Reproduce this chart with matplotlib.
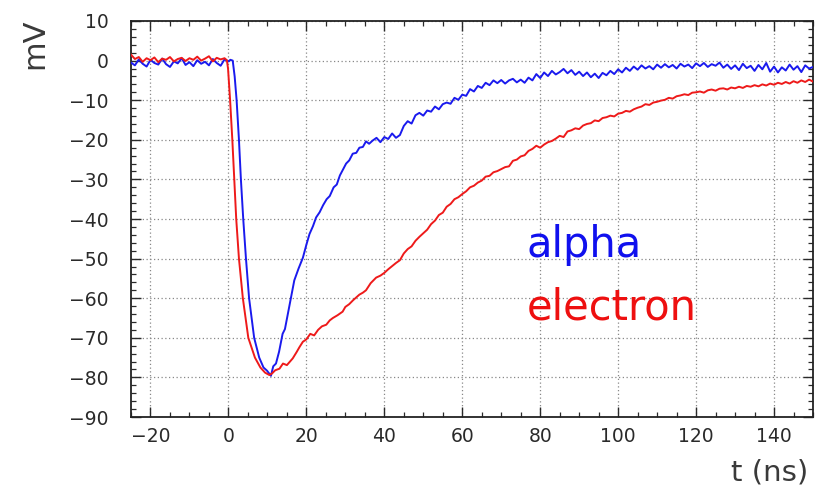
import matplotlib
matplotlib.use("Agg")
import matplotlib.pyplot as plt
from matplotlib.ticker import MultipleLocator

# ---- data ----
alpha_t = [-25, -24, -23, -22, -21, -20, -19, -18, -17, -16, -15, -14, -13, -12, -11, -10,
           -9, -8, -7, -6, -5, -4, -3, -2, -1, 0, 0.5, 1.1, 1.6, 2.1, 2.7, 3.2, 3.8, 4.5,
           5.3, 6.6, 7.9, 9.0, 9.9, 10.9, 11.5, 12.2, 13.0, 13.9, 14.5, 15.2, 16.0, 16.9,
           18.0, 19.1, 20.0, 20.8, 21.7, 22.5, 23.4, 24.3, 25.2, 26.0, 27.0, 27.8, 28.6,
           29.4, 30.2, 31.0, 31.9, 32.8, 33.6, 34.5, 35.3, 36.1, 37, 38, 39, 40, 41, 42,
           43, 44, 45, 46, 47, 48, 49, 50, 51, 52, 53, 54, 55, 56, 57, 58, 59, 60, 61, 62,
           63, 64, 65, 66, 67, 68, 69, 70, 71, 72, 73, 74, 75, 76, 77, 78, 79, 80, 81, 82,
           83, 84, 85, 86, 87, 88, 89, 90, 91, 92, 93, 94, 95, 96, 97, 98, 99, 100, 101,
           102, 103, 104, 105, 106, 107, 108, 109, 110, 111, 112, 113, 114, 115, 116, 117,
           118, 119, 120, 121, 122, 123, 124, 125, 126, 127, 128, 129, 130, 131, 132, 133,
           134, 135, 136, 137, 138, 139, 140, 141, 142, 143, 144, 145, 146, 147, 148, 149, 150]
alpha_mv = [-0.5, -1.2, 0.3, -0.8, -1.5, 0.2, -0.6, -1.0, 0.5, -0.9, -1.6, -0.2, -0.7, 0.6,
            -1.1, -0.4, -1.4, 0.1, -0.8, -0.3, -1.2, 0.4, -0.6, -1.3, 0.3, -0.2, 0.2, 0.0,
            -4, -10, -20, -30, -40, -50, -60, -70, -75, -77.5, -78.3, -79.6, -77.2, -76.5,
            -73.5, -69.0, -67.8, -64.2, -60.0, -55.5, -52.5, -49.8, -46.5, -43.8, -41.8,
            -39.6, -38.3, -36.5, -35.0, -34.2, -32.0, -31.3, -29.0, -27.5, -26.0, -25.2,
            -23.5, -23.3, -22.0, -21.8, -20.4, -21.0, -20.2, -19.5, -20.6, -19.3, -19.8,
            -18.4, -19.5, -18.8, -16.5, -15.3, -15.9, -13.8, -13.2, -13.9, -12.6, -12.9,
            -11.6, -12.3, -11.0, -10.6, -10.9, -9.4, -9.9, -8.6, -8.9, -7.2, -7.8, -6.4,
            -6.9, -5.6, -6.2, -5.0, -5.7, -4.9, -5.8, -5.0, -4.6, -5.5, -4.8, -5.6, -4.3,
            -5.0, -3.4, -4.4, -3.0, -3.9, -2.6, -3.5, -2.9, -2.1, -3.2, -2.4, -3.6, -2.8,
            -3.9, -3.0, -4.2, -3.3, -4.4, -3.1, -3.7, -2.6, -3.4, -2.2, -3.0, -1.8, -2.6,
            -1.5, -2.3, -1.2, -2.0, -1.4, -2.2, -1.0, -1.8, -0.9, -1.7, -1.1, -2.0, -0.8,
            -1.5, -1.0, -1.9, -0.7, -1.4, -0.6, -1.6, -0.9, -1.3, -0.5, -1.8, -1.0, -2.1,
            -1.2, -2.4, -0.8, -1.9, -1.3, -2.6, -1.1, -2.2, -0.6, -2.8, -1.5, -3.0, -1.7,
            -2.5, -1.0, -2.3, -1.4, -2.9, -1.2, -2.0, -1.6]

electron_t = [-25, -24, -23, -22, -21, -20, -19, -18, -17, -16, -15, -14, -13, -12, -11, -10,
              -9, -8, -7, -6, -5, -4, -3, -2, -1, -0.4, -0.1, 0.43, 1.0, 1.5, 2.0, 2.7, 3.7,
              5.1, 6.8, 8.2, 9.4, 10.5, 11.2, 12.0, 13.1, 14, 15, 16.5, 17.5, 18.2, 19.1, 20,
              21, 22, 23, 24, 25.1, 26, 26.8, 28, 29.3, 30, 31, 32, 33.6, 34.5, 35.3, 36.5,
              37.9, 39, 40, 41, 42, 43, 44, 45, 46, 47, 48, 49, 50, 51, 52, 53, 54, 55, 56,
              57, 58, 59, 60, 61, 62, 63, 64, 65, 66, 67, 68, 69, 70, 71, 72, 73, 74, 75, 76,
              77, 78, 79, 80, 81, 82, 83, 84, 85, 86, 87, 88, 89, 90, 91, 92, 93, 94, 95, 96,
              97, 98, 99, 100, 101, 102, 103, 104, 105, 106, 107, 108, 109, 110, 111, 112,
              113, 114, 115, 116, 117, 118, 119, 120, 121, 122, 123, 124, 125, 126, 127, 128,
              129, 130, 131, 132, 133, 134, 135, 136, 137, 138, 139, 140, 141, 142, 143, 144,
              145, 146, 147, 148, 149, 150]
electron_mv = [1.5, 0.4, 0.9, -0.3, 0.6, 0.1, 0.8, -0.4, 0.5, 0.2, 0.9, -0.2, 0.4, 0.7, -0.1,
               0.6, 0.2, 1.0, 0.0, 0.5, 1.1, -0.2, 0.7, 0.3, 0.6, 0.1, -2, -10, -20, -30, -40,
               -50, -60, -70, -75, -77.5, -78.8, -79.4, -79.0, -78.2, -77.8, -76.5, -76.9,
               -75.2, -73.6, -72.4, -71.0, -70.4, -69.0, -69.4, -68.0, -67.1, -66.7, -65.6,
               -65.0, -64.3, -63.4, -62.2, -61.5, -60.5, -59.1, -58.6, -58.0, -56.2, -54.8,
               -54.3, -53.6, -52.7, -51.9, -51.1, -50.4, -48.7, -47.6, -46.9, -45.5, -44.5,
               -43.6, -42.7, -41.3, -40.4, -39.0, -38.4, -36.9, -36.2, -35.0, -34.5, -33.7,
               -33.0, -32.0, -31.6, -30.8, -30.3, -29.3, -29.1, -28.2, -27.9, -27.4, -26.9,
               -26.7, -25.3, -25.0, -24.2, -23.9, -22.8, -22.3, -21.5, -22.0, -21.2, -20.6,
               -20.3, -19.7, -19.0, -19.3, -17.9, -17.6, -17.1, -17.3, -16.4, -16.0, -15.8,
               -15.1, -15.3, -14.5, -14.3, -13.9, -14.1, -13.4, -13.2, -12.7, -12.9, -12.3,
               -11.9, -11.6, -11.0, -11.2, -10.6, -10.4, -10.1, -9.9, -9.4, -9.6, -9.0, -8.8,
               -8.5, -8.7, -8.1, -8.0, -7.8, -8.1, -7.5, -7.3, -7.6, -7.1, -7.0, -7.3, -6.8,
               -7.0, -6.6, -6.9, -6.4, -6.6, -6.2, -6.5, -6.0, -6.3, -5.8, -6.1, -5.6, -5.9,
               -5.4, -5.8, -5.2, -5.6, -5.0, -5.4, -4.8, -5.3]

x_lim = (-25, 150)
y_lim = (-90, 10)
x_label = "t (ns)"
y_label = "mV"
labels = ["alpha", "electron"]

# ---- figure ----
plt.rcParams['font.family'] = ['DejaVu Sans']
fig = plt.figure(figsize=(8.16, 4.90), dpi=100)
ax = fig.add_axes([131 / 816, 1 - 417 / 490, 682 / 816, 396 / 490])

ax.plot(alpha_t, alpha_mv, color='#1a1aee', lw=1.4, zorder=3)
ax.plot(electron_t, electron_mv, color='#ee1a1a', lw=1.4, zorder=4)

ax.set_xlim(*x_lim)
ax.set_ylim(*y_lim)
ax.xaxis.set_major_locator(MultipleLocator(20))
ax.xaxis.set_minor_locator(MultipleLocator(5))
ax.yaxis.set_major_locator(MultipleLocator(10))
ax.yaxis.set_minor_locator(MultipleLocator(2))

ax.tick_params(which='both', direction='in', top=True, right=True,
               labeltop=False, labelright=False, colors='#2a2a2a')
ax.tick_params(which='major', length=7, width=1.0, labelsize=13.5)
ax.tick_params(axis='y', which='major', pad=16)
ax.tick_params(axis='x', which='major', pad=7)
ax.tick_params(which='minor', length=3.5, width=0.9)
for s in ax.spines.values():
    s.set_linewidth(1.3)
    s.set_color('#222222')

ax.grid(True, which='major', linestyle=(0, (1, 2)), color='#888888', lw=0.9)

ax.text(76.5, -49.5, labels[0], color='#1010ee', fontsize=30,
        ha='left', va='baseline')
ax.text(76.5, -65.5, labels[1], color='#ee1010', fontsize=30,
        ha='left', va='baseline')

fig.text(808 / 816, 1 - 480 / 490, x_label, fontsize=21, color='#3a3a3a',
         ha='right', va='baseline')
fig.text(35 / 816, 1 - 44 / 490, y_label, fontsize=22, color='#3a3a3a',
         rotation=90, ha='center', va='center')

fig.savefig("out.png", dpi=100)
